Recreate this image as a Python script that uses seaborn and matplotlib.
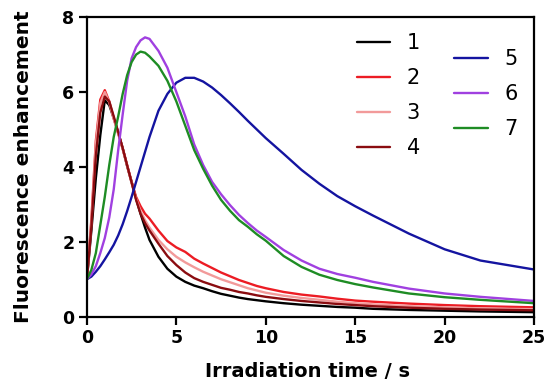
import matplotlib
matplotlib.use("Agg")
import matplotlib.pyplot as plt
import numpy as np
import pandas as pd
import seaborn as sns

# Irradiation time grid (s)
time_s = [0, 0.25, 0.5, 0.75, 1, 1.25, 1.5, 1.75, 2, 2.25, 2.5, 2.75, 3, 3.25,
          3.5, 4, 4.5, 5, 5.5, 6, 6.5, 7, 7.5, 8, 8.5, 9, 9.5, 10, 11, 12, 13,
          14, 15, 16, 18, 20, 22, 25]

# Fluorescence enhancement for samples 1-7
enh_1 = [1.0, 2.3, 3.7, 4.85, 5.78, 5.65, 5.3, 4.92, 4.5, 4.02, 3.6, 3.15, 2.75,
         2.38, 2.05, 1.6, 1.28, 1.07, 0.93, 0.83, 0.76, 0.68, 0.61, 0.56, 0.51,
         0.47, 0.44, 0.41, 0.36, 0.32, 0.29, 0.26, 0.24, 0.21, 0.18, 0.16, 0.14,
         0.12]
enh_2 = [1.0, 2.6, 4.7, 5.8, 6.05, 5.75, 5.3, 4.9, 4.5, 4.05, 3.6, 3.2, 2.95,
         2.75, 2.62, 2.3, 2.02, 1.85, 1.73, 1.55, 1.42, 1.3, 1.18, 1.08, 0.98,
         0.9, 0.82, 0.76, 0.66, 0.59, 0.54, 0.48, 0.43, 0.4, 0.35, 0.31, 0.28,
         0.25]
enh_3 = [1.0, 2.5, 4.6, 5.7, 6.0, 5.72, 5.28, 4.88, 4.47, 4.02, 3.57, 3.15, 2.82,
         2.58, 2.38, 2.05, 1.8, 1.6, 1.45, 1.32, 1.2, 1.1, 1.0, 0.92, 0.84,
         0.76, 0.7, 0.64, 0.56, 0.5, 0.45, 0.4, 0.36, 0.33, 0.28, 0.25, 0.22,
         0.2]
enh_4 = [1.0, 2.4, 4.3, 5.45, 5.88, 5.75, 5.35, 4.93, 4.5, 4.04, 3.58, 3.12, 2.75,
         2.5, 2.3, 1.95, 1.62, 1.38, 1.18, 1.03, 0.93, 0.85, 0.77, 0.72, 0.66,
         0.62, 0.57, 0.53, 0.47, 0.42, 0.38, 0.34, 0.31, 0.28, 0.24, 0.21, 0.19,
         0.17]
enh_5 = [1.0, 1.07, 1.2, 1.35, 1.53, 1.72, 1.92, 2.17, 2.47, 2.82, 3.2, 3.6, 4.0,
         4.4, 4.8, 5.5, 5.95, 6.25, 6.38, 6.38, 6.28, 6.12, 5.92, 5.7, 5.47,
         5.23, 5.0, 4.77, 4.35, 3.92, 3.55, 3.22, 2.95, 2.7, 2.22, 1.8, 1.5,
         1.26]
enh_6 = [1.0, 1.13, 1.35, 1.7, 2.1, 2.65, 3.4, 4.45, 5.4, 6.3, 6.9, 7.2, 7.38,
         7.46, 7.42, 7.1, 6.65, 6.0, 5.35, 4.6, 4.05, 3.6, 3.27, 2.98, 2.72,
         2.5, 2.3, 2.13, 1.78, 1.5, 1.28, 1.14, 1.04, 0.93, 0.75, 0.62, 0.53,
         0.42]
enh_7 = [1.0, 1.25, 1.7, 2.45, 3.2, 4.05, 4.8, 5.35, 5.95, 6.45, 6.8, 7.0, 7.08,
         7.05, 6.95, 6.7, 6.3, 5.75, 5.1, 4.45, 3.95, 3.5, 3.12, 2.83, 2.58,
         2.4, 2.2, 2.03, 1.62, 1.33, 1.12, 0.98, 0.87, 0.78, 0.62, 0.52, 0.45,
         0.36]

sample_labels = ["1", "2", "3", "4", "5", "6", "7"]
sample_colors = ["#000000", "#ec1c24", "#f29a9a", "#8a0c10",
                 "#1414a0", "#a040e0", "#1e8c24"]
x_ticks = [0, 5, 10, 15, 20, 25]
y_ticks = [0, 2, 4, 6, 8]

series = [enh_1, enh_2, enh_3, enh_4, enh_5, enh_6, enh_7]
df = pd.concat(
    [pd.DataFrame({"time": time_s, "enh": vals, "sample": lab})
     for lab, vals in zip(sample_labels, series)],
    ignore_index=True,
)

sns.set_theme(style="ticks")
plt.rcParams.update({
    "font.family": ["DejaVu Sans"],
    "text.color": "black",
    "axes.labelcolor": "black",
    "xtick.color": "black",
    "ytick.color": "black",
})

fig, ax = plt.subplots(figsize=(5.5, 3.9), dpi=100)
fig.subplots_adjust(left=0.158, right=0.971, bottom=0.188, top=0.956)

palette = dict(zip(sample_labels, sample_colors))
sns.lineplot(data=df, x="time", y="enh", hue="sample", hue_order=sample_labels,
             palette=palette, estimator=None, sort=False, linewidth=1.7,
             legend=False, ax=ax)

ax.set_xlim(0, 25)
ax.set_ylim(0, 8)
ax.set_xticks(x_ticks)
ax.set_yticks(y_ticks)
ax.set_xticklabels([str(v) for v in x_ticks], fontsize=12.5, fontweight="bold")
ax.set_yticklabels([str(v) for v in y_ticks], fontsize=12.5, fontweight="bold")
ax.tick_params(direction="out", length=6, width=1.6, color="black",
               labelcolor="black", pad=3)
for sp in ax.spines.values():
    sp.set_visible(True)
    sp.set_linewidth(1.6)
    sp.set_color("black")

ax.set_xlabel("Irradiation time / s", fontsize=14, fontweight="bold", va="top",
              color="black")
ax.set_ylabel("Fluorescence enhancement", fontsize=14.5, fontweight="bold",
              color="black")
ax.xaxis.set_label_coords(0.493, -0.15)
ax.yaxis.set_label_coords(-0.121, 0.5)

lines = ax.get_lines()
leg_kw = dict(frameon=False, fontsize=15, handlelength=1.6, handletextpad=0.8,
              labelspacing=0.72, borderpad=0, borderaxespad=0, loc="upper left",
              labelcolor="black")
leg1 = ax.legend(lines[:4], sample_labels[:4], bbox_to_anchor=(0.603, 0.947), **leg_kw)
ax.add_artist(leg1)
ax.legend(lines[4:], sample_labels[4:], bbox_to_anchor=(0.822, 0.894), **leg_kw)

fig.savefig("out.png", dpi=100)
